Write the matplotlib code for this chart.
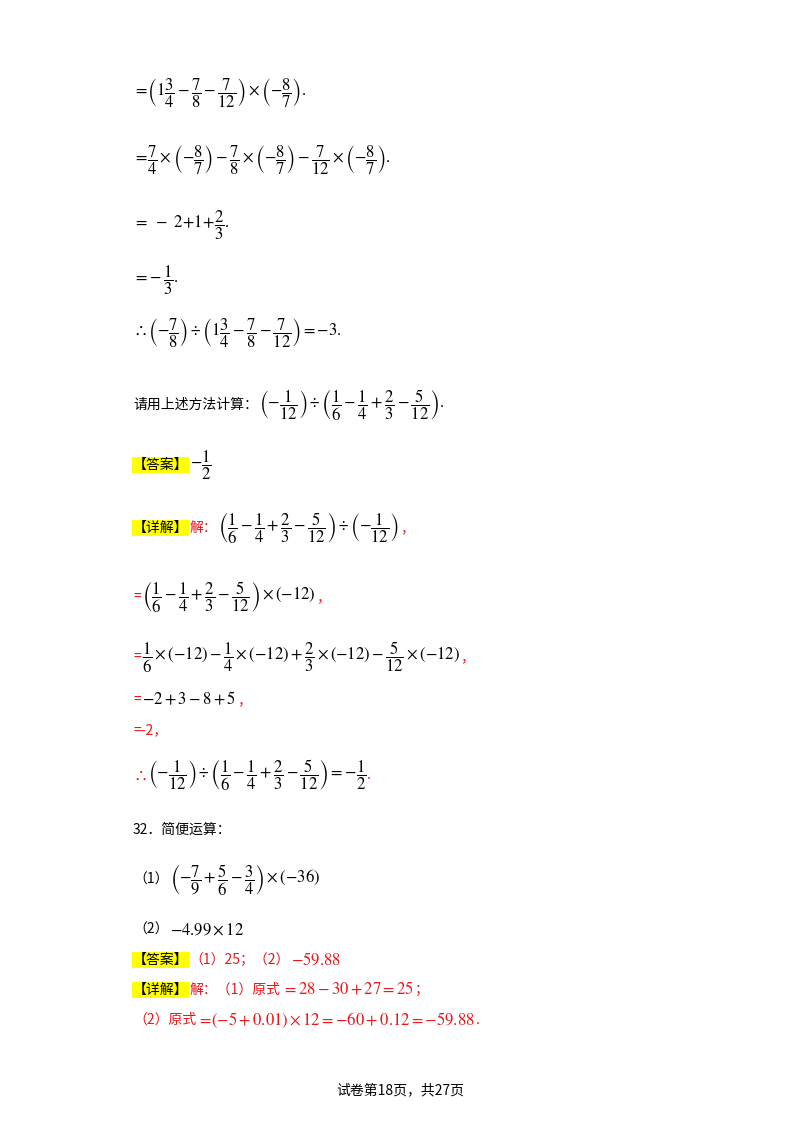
import matplotlib
matplotlib.use("Agg")
import matplotlib.pyplot as plt

plt.rcParams['font.family'] = ['Noto Sans CJK SC', 'DejaVu Sans']
plt.rcParams['mathtext.fontset'] = 'stix'

W, H = 800, 1132
RED = '#e8171b'
K = 'black'

# each line: (x_px, y_px, [(text, color, highlight), ...])
lines = [
    (133, 93, [(r'$=\!\left(1\dfrac{3}{4}-\dfrac{7}{8}-\dfrac{7}{12}\right)\times\left(-\dfrac{8}{7}\right).$', K, False)]),
    (133, 160, [(r'$=\!\dfrac{7}{4}\times\left(-\dfrac{8}{7}\right)-\dfrac{7}{8}\times\left(-\dfrac{8}{7}\right)-\dfrac{7}{12}\times\left(-\dfrac{8}{7}\right).$', K, False)]),
    (133, 225, [(r'$=\ -\ 2\!+\!1\!+\!\dfrac{2}{3}.$', K, False)]),
    (133, 280, [(r'$=\!-\dfrac{1}{3}.$', K, False)]),
    (133, 333, [(r'$\therefore\left(-\dfrac{7}{8}\right)\div\left(1\dfrac{3}{4}-\dfrac{7}{8}-\dfrac{7}{12}\right)=-3.$', K, False)]),
    (133, 405, [('请用上述方法计算：', K, False),
                (r'$\left(-\dfrac{1}{12}\right)\div\left(\dfrac{1}{6}-\dfrac{1}{4}+\dfrac{2}{3}-\dfrac{5}{12}\right).$', K, False)]),
    (133, 465, [('【答案】', K, True), (r'$-\dfrac{1}{2}$', K, False)]),
    (133, 528, [('【详解】', K, True), ('解：', RED, False),
                (r'$\left(\dfrac{1}{6}-\dfrac{1}{4}+\dfrac{2}{3}-\dfrac{5}{12}\right)\div\left(-\dfrac{1}{12}\right)$', K, False),
                ('，', RED, False)]),
    (133, 597, [('=', RED, False),
                (r'$\left(\dfrac{1}{6}-\dfrac{1}{4}+\dfrac{2}{3}-\dfrac{5}{12}\right)\times\left(-12\right)$', K, False),
                ('，', RED, False)]),
    (133, 657, [('=', RED, False),
                (r'$\dfrac{1}{6}\times\left(-12\right)-\dfrac{1}{4}\times\left(-12\right)+\dfrac{2}{3}\times\left(-12\right)-\dfrac{5}{12}\times\left(-12\right)$', K, False),
                ('，', RED, False)]),
    (133, 700, [('=', RED, False), (r'$-2+3-8+5$', K, False), ('，', RED, False)]),
    (133, 730, [('=-2，', RED, False)]),
    (133, 775, [(r'$\therefore$', RED, False),
                (r'$\left(-\dfrac{1}{12}\right)\div\left(\dfrac{1}{6}-\dfrac{1}{4}+\dfrac{2}{3}-\dfrac{5}{12}\right)=-\dfrac{1}{2}$', K, False),
                ('.', RED, False)]),
    (133, 830, [('32．简便运算：', K, False)]),
    (133, 880, [('（1）', K, False),
                (r'$\left(-\dfrac{7}{9}+\dfrac{5}{6}-\dfrac{3}{4}\right)\times\left(-36\right)$', K, False)]),
    (133, 930, [('（2）', K, False), (r'$-4.99\times12$', K, False)]),
    (133, 960, [('【答案】', K, True), ('（1）25；（2）', RED, False), (r'$-59.88$', RED, False)]),
    (133, 990, [('【详解】', K, True), ('解：（1）原式', RED, False),
                (r'$=28-30+27=25$', RED, False), ('；', RED, False)]),
    (133, 1020, [('（2）原式', RED, False),
                 (r'$=\!\left(-5+0.01\right)\times12=-60+0.12=-59.88$', RED, False),
                 ('.', RED, False)]),
]
footer = '试卷第18页，共27页'

fig = plt.figure(figsize=(W/100, H/100), dpi=100)
fig.patch.set_facecolor('white')
fig.canvas.draw()
r = fig.canvas.get_renderer()
for x, y, segs in lines:
    cx = x
    for t, c, hl in segs:
        kw = {}
        if hl:
            kw['bbox'] = dict(facecolor='#ffff00', edgecolor='none', pad=0.5)
        fs = 12 if t.startswith('$') else 10
        tx = fig.text(cx/W, 1 - y/H, t, color=c, fontsize=fs, ha='left', va='center', **kw)
        bb = tx.get_window_extent(renderer=r)
        cx += bb.width + 1
fig.text(0.5, 1 - 1090/H, footer, fontsize=10, ha='center', va='center')

fig.savefig('out.png', dpi=100)
